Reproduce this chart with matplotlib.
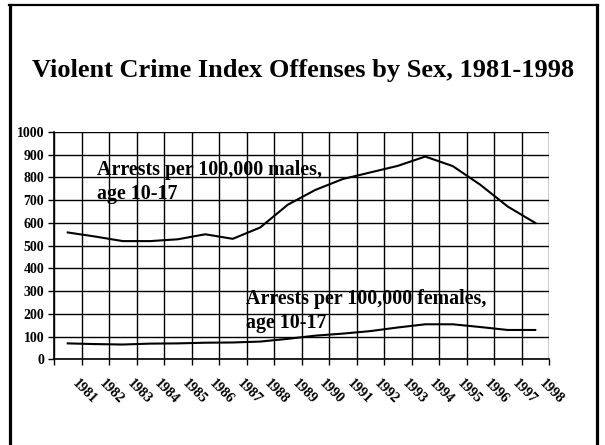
import matplotlib
matplotlib.use("Agg")
import matplotlib.pyplot as plt
from matplotlib.lines import Line2D
from matplotlib.transforms import ScaledTranslation
import numpy as np

years = ["1981", "1982", "1983", "1984", "1985", "1986", "1987", "1988", "1989",
         "1990", "1991", "1992", "1993", "1994", "1995", "1996", "1997", "1998"]
males = [558, 540, 520, 520, 528, 550, 530, 580, 680, 745, 793, 822, 851, 892, 850, 768, 672, 600]
females = [70, 67, 65, 69, 70, 73, 74, 78, 90, 104, 113, 124, 140, 154, 154, 142, 129, 129]
yticks = [0, 100, 200, 300, 400, 500, 600, 700, 800, 900, 1000]

title = "Violent Crime Index Offenses by Sex, 1981-1998"
male_label = "Arrests per 100,000 males,\nage 10-17"
female_label = "Arrests per 100,000 females,\nage 10-17"

W, H = 605, 445
plt.rcParams['font.family'] = ['Liberation Serif', 'DejaVu Serif']
fig = plt.figure(figsize=(W / 100, H / 100), dpi=100)

def fx(px):
    return px / W

def fy(py):
    return 1 - py / H

# axes placement
left, right, top, bottom = 54, 549, 132, 359.3
ax = fig.add_axes([fx(left), fy(bottom), fx(right) - fx(left), fy(top) - fy(bottom)])

n = len(years)
x = np.arange(n)
ax.plot(x, males, color='black', lw=1.5, solid_joinstyle='round')
ax.plot(x, females, color='black', lw=1.5, solid_joinstyle='round')

ax.set_xlim(-0.5, n - 0.5)
ax.set_ylim(0, 1000)

# major ticks at category boundaries -> gridlines
ax.set_xticks(np.arange(n + 1) - 0.5)
ax.set_xticklabels([])
ax.set_xticks(x, minor=True)
ax.set_xticklabels(years, minor=True, rotation=-45, ha='left', va='top',
                   fontsize=10.3, fontweight='bold')
ax.tick_params(axis='x', which='minor', length=0, pad=13)
ax.tick_params(axis='x', which='major', length=4, width=1, direction='out', color='black')
offset = ScaledTranslation(1.5 / 100, 0, fig.dpi_scale_trans)
for lab in ax.get_xticklabels(minor=True):
    lab.set_transform(lab.get_transform() + offset)

ax.set_yticks(yticks)
ax.set_yticklabels([str(v) for v in yticks], fontsize=10, fontweight='bold')
ax.tick_params(axis='y', length=4, width=1, direction='out', pad=3)

ax.grid(True, which='major', color='black', lw=1.0)
ax.set_axisbelow(True)
for s in ['top', 'right']:
    ax.spines[s].set_visible(False)
for s in ['left', 'bottom']:
    ax.spines[s].set_color('black')
    ax.spines[s].set_linewidth(1.2)

# title
fig.text(fx(303), fy(70), title, ha='center', va='center', fontsize=19, fontweight='bold')

# annotations
fig.text(fx(97), fy(160), male_label, ha='left', va='top', fontsize=14.4, fontweight='bold',
         linespacing=1.25)
fig.text(fx(246), fy(289), female_label, ha='left', va='top', fontsize=14.4, fontweight='bold',
         linespacing=1.25)

# outer frame
fig.add_artist(Line2D([fx(9.7), fx(9.7)], [fy(5), fy(445)], color='black', lw=2.3,
                      transform=fig.transFigure))
fig.add_artist(Line2D([fx(8.5), fx(598.3)], [fy(5), fy(5)], color='black', lw=1.6,
                      transform=fig.transFigure))
fig.add_artist(Line2D([fx(597), fx(597)], [fy(5), fy(445)], color='black', lw=2.3,
                      transform=fig.transFigure))
fig.add_artist(Line2D([fx(10), fx(597)], [fy(444.5), fy(444.5)], color='#c8c8c8', lw=0.8,
                      transform=fig.transFigure))

fig.savefig("out.png", dpi=100)
